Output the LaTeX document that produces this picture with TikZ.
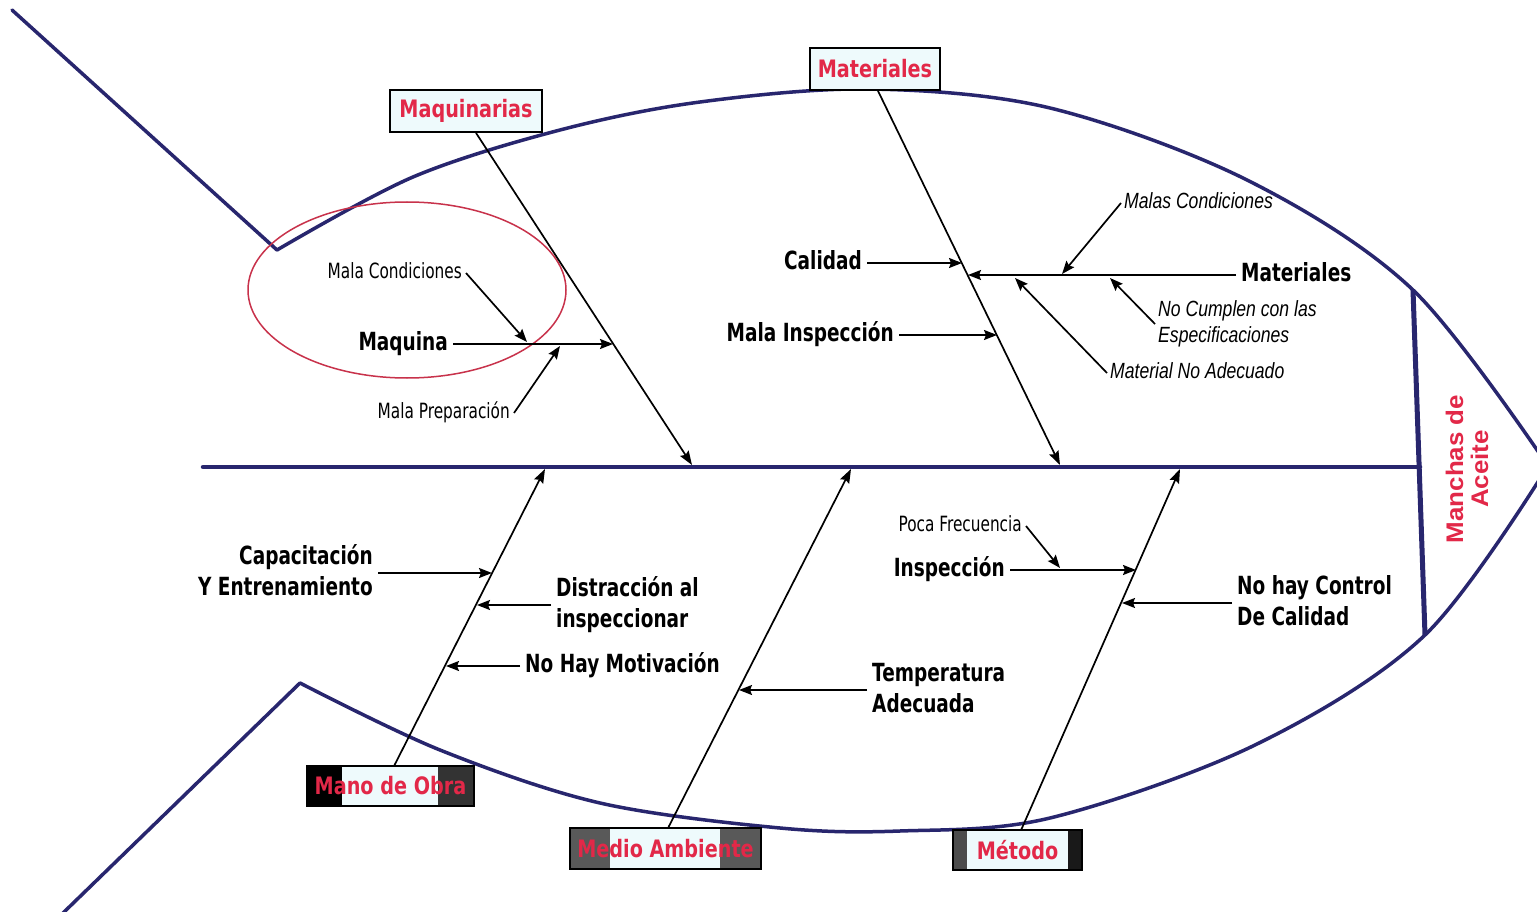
\documentclass[tikz,border=0pt]{standalone}
\usepackage{fontspec}
\usetikzlibrary{arrows.meta}
\newfontfamily\labelfont[FakeStretch=0.74]{DejaVu Sans}
\newfontfamily\notefont[FakeStretch=0.73]{DejaVu Sans}
\newfontfamily\causefont[FakeStretch=0.8]{Liberation Sans}
\newfontfamily\catfont[FakeStretch=0.8]{DejaVu Sans}
\newfontfamily\effectfont[FakeStretch=1.08]{Liberation Sans}
\definecolor{fishblue}{RGB}{40,38,110}
\definecolor{catred}{RGB}{226,40,72}
\definecolor{ringred}{RGB}{200,50,75}
\definecolor{boxfill}{RGB}{238,250,252}
\tikzset{
  outline/.style={draw=fishblue, line width=3.5pt, line join=round, line cap=round},
  spine/.style={draw=fishblue, line width=4.5pt, line cap=round},
  branch/.style={draw=black, line width=1.7pt, -{Stealth[length=14pt,width=10pt,inset=2pt]}},
  sub/.style={draw=black, line width=1.7pt, -{Stealth[length=13pt,width=10pt,inset=2pt]}},
  cat/.style={draw=black, line width=1.8pt, fill=boxfill, text=catred,
    font=\catfont\bfseries\fontsize{24}{24}\selectfont, inner sep=0pt},
  ends/.style n args={4}{path picture={
    \fill[#1] (path picture bounding box.north west) rectangle ([xshift=#2]path picture bounding box.south west);
    \fill[#3] (path picture bounding box.north east) rectangle ([xshift=-#4]path picture bounding box.south east);}},
  lab/.style={font=\labelfont\bfseries\fontsize{25}{31}\selectfont, inner xsep=5pt, inner ysep=0pt,
    text height=18.5pt, text depth=5.5pt},
  labtwo/.style={lab, text height=49.5pt},
  note/.style={font=\notefont\fontsize{21}{24}\selectfont, inner xsep=4pt, inner ysep=0pt,
    text height=15pt, text depth=4pt},
  cause/.style={font=\causefont\itshape\fontsize{22}{26}\selectfont, inner xsep=3pt, inner ysep=0pt,
    text height=15.5pt, text depth=4.5pt},
  causetwo/.style={cause, text height=41.5pt},
  effect/.style={font=\effectfont\bfseries\fontsize{24}{25}\selectfont, text=catred, align=center, inner sep=0pt}
}
\begin{document}
\begin{tikzpicture}[x=1pt,y=-1pt]
\fill[white] (0,0) rectangle (1537,912);
\clip (0,0) rectangle (1537,912);

% fish body: tails, back, belly and head
\draw[outline] (12,10) -- (277,250);
\draw[outline] plot[smooth, tension=0.55] coordinates {(277,250) (413,177) (560,130) (700,102) (870,89) (1050,108) (1247,180) (1413,290) (1548,466)};
\draw[outline] (62,914) -- (300,683);
\draw[outline] plot[smooth, tension=0.55] coordinates {(300,683) (440,750) (600,803) (780,828) (900,831) (1050,818) (1255,745) (1425,635) (1548,466)};
\draw[fishblue, line width=5pt] (1413,290) -- (1425,635);
\draw[spine] (203,467) -- (1420,467);

% highlighted area around the machine cause
\draw[ringred, line width=1.5pt] (407,290) ellipse [x radius=159pt, y radius=88pt];

% effect
\node[effect, rotate=90] (efecto) at (1467,469) {Manchas de\\Aceite};

% category boxes
\node[cat, minimum width=152pt, minimum height=42pt] (cMaq) at (466,111) {Maquinarias};
\node[cat, minimum width=130pt, minimum height=42pt] (cMat) at (875,69) {Materiales};
\node[cat, minimum width=167pt, minimum height=40pt, ends={black}{35pt}{black!80}{36pt}] (cMob) at (390.5,786) {Mano de Obra};
\node[cat, minimum width=191pt, minimum height=41pt, ends={black!65}{40pt}{black!65}{41pt}] (cMed) at (665.5,848.5) {Medio Ambiente};
\node[cat, minimum width=129pt, minimum height=40pt, ends={black!70}{14pt}{black!90}{14pt}] (cMet) at (1017.5,850) {Método};

% points where the bones meet the spine
\coordinate (sMaq) at (692,465);
\coordinate (sMat) at (1060,465);
\coordinate (sMob) at (545,469);
\coordinate (sMed) at (851,469);
\coordinate (sMet) at (1180,469);

% main bones
\draw[branch] ([xshift=10pt]cMaq.south) -- (sMaq);
\draw[branch] ([xshift=3pt]cMat.south) -- (sMat);
\draw[branch] ([xshift=4pt]cMob.north) -- (sMob);
\draw[branch] ([xshift=3pt]cMed.north) -- (sMed);
\draw[branch] ([xshift=4pt]cMet.north) -- (sMet);

% Maquinarias
\coordinate (bMaq1) at (613,344);
\coordinate (pMaq1) at (527,342);
\coordinate (pMaq2) at (560,346);
\node[lab, anchor=east] (maquina) at (453,344) {Maquina};
\node[note, anchor=east] (malacond) at (466,273) {Mala Condiciones};
\node[note, anchor=east] (malaprep) at (514,413) {Mala Preparación};
\draw[sub] (maquina.east) -- (bMaq1);
\draw[sub] (malacond.east) -- (pMaq1);
\draw[sub] (malaprep.east) -- (pMaq2);

% Materiales
\coordinate (bMat1) at (962,263);
\coordinate (bMat2) at (997,335);
\coordinate (bMat3) at (968,275);
\coordinate (pMat1) at (1062,274);
\coordinate (pMat2) at (1110,278);
\coordinate (pMat3) at (1015,278);
\node[lab, anchor=east] (calidad) at (867,263) {Calidad};
\node[lab, anchor=east] (malainsp) at (899,335) {Mala Inspección};
\node[lab, anchor=west] (materiales) at (1236,275) {Materiales};
\node[cause, anchor=west] (malascond) at (1121,203) {Malas Condiciones};
\node[causetwo, anchor=west, align=left] (nocumplen) at (1155,324) {No Cumplen con las\\Especificaciones};
\node[cause, anchor=west] (noadec) at (1107,373) {Material No Adecuado};
\draw[sub] (calidad.east) -- (bMat1);
\draw[sub] (malainsp.east) -- (bMat2);
\draw[sub] (materiales.west) -- (bMat3);
\draw[sub] (malascond.west) -- (pMat1);
\draw[sub] (nocumplen.west) -- (pMat2);
\draw[sub] (noadec.west) -- (pMat3);

% Mano de Obra
\coordinate (bMob1) at (492,573);
\coordinate (bMob2) at (477,605);
\coordinate (bMob3) at (446,666);
\node[labtwo, anchor=east, align=right] (capac) at (378,573) {Capacitación\\Y Entrenamiento};
\node[labtwo, anchor=west, align=left] (distr) at (551,605) {Distracción al\\inspeccionar};
\node[lab, anchor=west] (motiv) at (520,666) {No Hay Motivación};
\draw[sub] (capac.east) -- (bMob1);
\draw[sub] (distr.west) -- (bMob2);
\draw[sub] (motiv.west) -- (bMob3);

% Medio Ambiente
\coordinate (bMed1) at (739,690);
\node[labtwo, anchor=west, align=left] (temp) at (867,690) {Temperatura\\Adecuada};
\draw[sub] (temp.west) -- (bMed1);

% Método
\coordinate (bMet1) at (1136,570);
\coordinate (bMet2) at (1122,603);
\coordinate (pMet1) at (1060,568);
\node[lab, anchor=east] (insp) at (1010,570) {Inspección};
\node[note, anchor=east] (poca) at (1026,526) {Poca Frecuencia};
\node[labtwo, anchor=west, align=left] (control) at (1232,603) {No hay Control\\De Calidad};
\draw[sub] (insp.east) -- (bMet1);
\draw[sub] (poca.east) -- (pMet1);
\draw[sub] (control.west) -- (bMet2);
\end{tikzpicture}
\end{document}
